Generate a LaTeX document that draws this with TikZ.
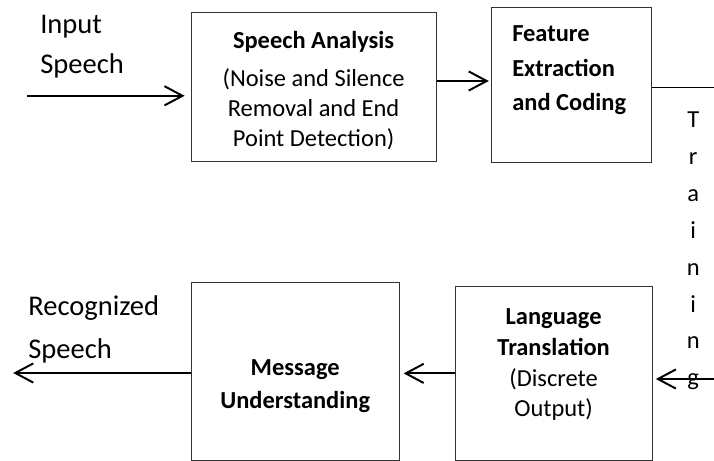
\documentclass[tikz,border=0pt]{standalone}
\usepackage{fontspec}
\setmainfont{Carlito}
\usetikzlibrary{arrows.meta}

\begin{document}
\begin{tikzpicture}[
    blockbox/.style={draw=black!80, line width=0.6pt, inner sep=0pt},
    boxtext/.style={inner sep=0pt, align=center, font=\fontsize{17.4}{21.3}\selectfont},
    boldtext/.style={inner sep=0pt, font=\bfseries\fontsize{17.4}{23.5}\selectfont},
    sidetext/.style={inner sep=0pt, anchor=north west, align=left},
    arr/.style={line width=1.4pt, -{Straight Barb[length=0.45cm, width=0.48cm]}}
    ]
    \useasboundingbox (0,0) rectangle (17.85,11.525);

    \node[blockbox, minimum width=6.13cm, minimum height=3.73cm] (sa) at (7.84,9.36) {};
    \node[boxtext] (satxt) at ([yshift=-0.09cm]sa.center) {\textbf{Speech Analysis}\\[5.7pt](Noise and Silence\\Removal and End\\Point Detection)};

    \node[blockbox, minimum width=4.0cm, minimum height=3.88cm] (fe) at (14.28,9.41) {};
    \node[boldtext, anchor=north west, align=left, font=\bfseries\fontsize{17.4}{24.5}\selectfont] (fetxt) at (12.8,10.88) {Feature\\Extraction\\and Coding};

    \node[blockbox, minimum width=4.93cm, minimum height=4.33cm] (lt) at (13.84,2.19) {};
    \node[boxtext, font=\fontsize{17.4}{22}\selectfont] (lttxt) at ([yshift=0.22cm]lt.center) {\textbf{Language}\\\textbf{Translation}\\(Discrete\\Output)};

    \node[blockbox, minimum width=5.2cm, minimum height=4.45cm] (mu) at (7.38,2.25) {};
    \node[boldtext, align=center] (mutxt) at ([yshift=-0.375cm]mu.center) {Message\\Understanding};

    \node[sidetext, font=\fontsize{20.3}{28.5}\selectfont] (insp) at (1.0,11.15) {Input\\Speech};
    \node[sidetext, font=\fontsize{20.3}{30.6}\selectfont] (recsp) at (0.7,4.15) {Recognized\\Speech};
    \node[boxtext, anchor=north, font=\fontsize{17.4}{26.2}\selectfont] (train) at (17.33,8.725) {T\\r\\a\\i\\n\\i\\n\\g};

    \coordinate (in) at (0.68,9.13);
    \coordinate (trtop) at (17.85,9.33);
    \coordinate (trbot) at (17.85,2.05);
    \coordinate (out) at (0.33,2.2);

    \draw[arr, shorten >=0.15cm] (in) -- (in -| sa.west);
    \draw[arr, shorten >=0.05cm] ([yshift=0.14cm]sa.east) -- ([yshift=0.14cm]sa.east -| fe.west);
    \draw[line width=0.9pt] (trtop -| fe.east) -- (trtop);
    \draw[arr, shorten >=0.08cm] (trbot) -- (trbot -| lt.east);
    \draw[arr, shorten >=0.1cm] (lt.west) -- (lt.west -| mu.east);
    \draw[arr] (out -| mu.west) -- (out);
\end{tikzpicture}
\end{document}
